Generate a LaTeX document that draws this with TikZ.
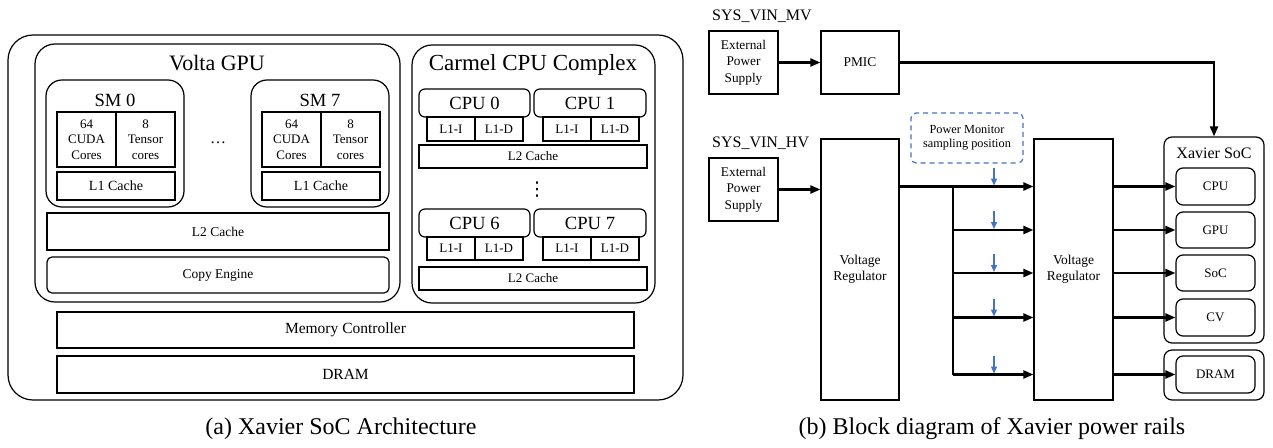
\documentclass[tikz,border=0pt]{standalone}
\usepackage{fontspec}
\setmainfont{Liberation Serif}
\newfontfamily\dejavu{DejaVu Sans}
\usetikzlibrary{arrows.meta,calc}
\definecolor{pmblue}{HTML}{4472C4}
\newcommand{\fs}[2]{\fontsize{#1}{#2}\selectfont}
\begin{document}
\begin{tikzpicture}[x=1pt,y=-1pt,
  box/.style={draw,line width=1.2pt,inner sep=0pt,align=center,font=\fs{13}{15.5}},
  rbox/.style={box,rounded corners=#1},
  lbl/.style={inner sep=0pt,align=center},
  wire/.style={line width=2.2pt},
  arr/.style={line width=2.2pt,-{Triangle[length=10pt,width=8pt]}},
  barr/.style={line width=1.4pt,draw=pmblue,-{Triangle[length=7pt,width=6pt]}}]
\useasboundingbox (0,0) rectangle (1273,447);
% ================= (a) architecture =================
\node[rbox=25pt,minimum width=675pt,minimum height=365pt] (outer) at (345.5,217.5) {};
\node[rbox=20pt,minimum width=365pt,minimum height=258pt] (volta) at (217.5,173) {};
\node[lbl,font=\fs{22}{24}] (voltat) at (217,63) {Volta GPU};
\node[rbox=20pt,minimum width=243pt,minimum height=258pt] (carmel) at (533.5,174) {};
\node[lbl,font=\fs{23}{25}] (carmelt) at (533,65) {Carmel CPU Complex};
% SM 0
\node[rbox=16pt,minimum width=138pt,minimum height=127pt] (sm0) at (115,143.5) {};
\node[lbl,font=\fs{18.6}{20}] (sm0t) at (115,100) {SM 0};
\node[box,minimum width=59pt,minimum height=55pt] (sm0c) at (86.5,139.5) {64\\CUDA\\Cores};
\node[box,minimum width=59pt,minimum height=55pt] (sm0tc) at (145.5,139.5) {8\\Tensor\\cores};
\node[box,font=\fs{14}{16},minimum width=118pt,minimum height=28pt] (sm0l1) at (116,186) {L1 Cache};
% SM 7
\node[rbox=16pt,minimum width=138pt,minimum height=127pt] (sm7) at (320,143.5) {};
\node[lbl,font=\fs{18.6}{20}] (sm7t) at (320,100) {SM 7};
\node[box,minimum width=59pt,minimum height=55pt] (sm7c) at (291.5,139.5) {64\\CUDA\\Cores};
\node[box,minimum width=59pt,minimum height=55pt] (sm7tc) at (350.5,139.5) {8\\Tensor\\cores};
\node[box,font=\fs{14}{16},minimum width=118pt,minimum height=28pt] (sm7l1) at (321,186) {L1 Cache};
\node[lbl,font=\fs{16}{18}] (hdots) at (218,143) {\dots};
\node[box,font=\fs{13.5}{16},minimum width=342pt,minimum height=37pt] (gl2) at (218,231.5) {L2 Cache};
\node[rbox=5pt,font=\fs{13.5}{16},minimum width=342pt,minimum height=36pt] (copy) at (218,275) {Copy Engine};
% CPUs
\node[rbox=6pt,font=\fs{18.6}{20},minimum width=111pt,minimum height=28pt] (cpu0) at (474.5,103) {CPU 0};
\node[rbox=6pt,font=\fs{18.6}{20},minimum width=112pt,minimum height=28pt] (cpu1) at (590,103) {CPU 1};
\node[box,minimum width=48pt,minimum height=24pt] (c0i) at (451,129) {L1-I};
\node[box,minimum width=48pt,minimum height=24pt] (c0d) at (499,129) {L1-D};
\node[box,minimum width=48pt,minimum height=24pt] (c1i) at (567,129) {L1-I};
\node[box,minimum width=48pt,minimum height=24pt] (c1d) at (615,129) {L1-D};
\node[box,minimum width=228pt,minimum height=23pt] (cl2a) at (533,156.5) {L2 Cache};
\node[lbl,font=\dejavu\fs{19}{22}] (vdots) at (537,190) {⋮};
\node[rbox=6pt,font=\fs{18.6}{20},minimum width=111pt,minimum height=28pt] (cpu6) at (474.5,223) {CPU 6};
\node[rbox=6pt,font=\fs{18.6}{20},minimum width=112pt,minimum height=28pt] (cpu7) at (590,223) {CPU 7};
\node[box,minimum width=48pt,minimum height=23pt] (c6i) at (451,248.5) {L1-I};
\node[box,minimum width=48pt,minimum height=23pt] (c6d) at (499,248.5) {L1-D};
\node[box,minimum width=48pt,minimum height=23pt] (c7i) at (567,248.5) {L1-I};
\node[box,minimum width=48pt,minimum height=23pt] (c7d) at (615,248.5) {L1-D};
\node[box,minimum width=228pt,minimum height=23pt] (cl2b) at (533,278.5) {L2 Cache};
% memory
\node[box,font=\fs{15.5}{18},minimum width=577pt,minimum height=36pt] (mem) at (345.5,330) {Memory Controller};
\node[box,font=\fs{15.5}{18},minimum width=577pt,minimum height=37pt] (dramA) at (345.5,374.5) {DRAM};
\node[lbl,font=\fs{24}{26}] (capa) at (341,429) {(a) Xavier SoC Architecture};
% ================= (b) power rails =================
\node[lbl,anchor=west,font=\fs{16}{18}] (mv) at (712,16) {SYS\_VIN\_MV};
\node[box,font=\fs{13.3}{16.5},minimum width=69pt,minimum height=63pt] (eps1) at (743.5,62.5) {External\\Power\\Supply};
\node[box,font=\fs{13.4}{16},minimum width=78pt,minimum height=63pt] (pmic) at (860,62.5) {PMIC};
\node[lbl,anchor=west,font=\fs{16}{18}] (hv) at (712,143) {SYS\_VIN\_HV};
\node[box,font=\fs{13.3}{16.5},minimum width=69pt,minimum height=63pt] (eps2) at (743.5,189.5) {External\\Power\\Supply};
\node[box,font=\fs{13.5}{16},minimum width=78pt,minimum height=261pt] (vr1) at (860,269.5) {Voltage\\Regulator};
\node[box,font=\fs{13.5}{16},minimum width=79pt,minimum height=261pt] (vr2) at (1073.5,269.5) {Voltage\\Regulator};
\node[rbox=5pt,draw=pmblue,dash pattern=on 5pt off 4pt,font=\fs{12.3}{14.5},minimum width=112pt,minimum height=50pt] (pm) at (967,138) {Power Monitor\\sampling position};
\node[rbox=8pt,minimum width=100pt,minimum height=206pt] (xsoc) at (1214,240) {};
\node[lbl,font=\fs{16}{18}] (xsoct) at (1214,153) {Xavier SoC};
\node[rbox=7pt,minimum width=79pt,minimum height=37pt] (cpu) at (1215.5,186.5) {CPU};
\node[rbox=7pt,minimum width=79pt,minimum height=36pt] (gpu) at (1215.5,230) {GPU};
\node[rbox=7pt,minimum width=79pt,minimum height=36pt] (soc) at (1215.5,273) {SoC};
\node[rbox=7pt,minimum width=79pt,minimum height=37pt] (cv) at (1215.5,317.5) {CV};
\node[rbox=8pt,minimum width=100pt,minimum height=50pt] (dramo) at (1214,375) {};
\node[rbox=7pt,minimum width=79pt,minimum height=37pt] (dram) at (1215.5,374.5) {DRAM};
\node[lbl,font=\fs{24}{26}] (capb) at (992,429) {(b) Block diagram of Xavier power rails};
% connectors
\draw[arr] (eps1.east) -- (pmic.west);
\draw[arr] (pmic.east) -| (xsoc.north);
\draw[arr] (eps2.east) -- (eps2.east -| vr1.west);
\coordinate (bus) at (953,0);
\coordinate (pmx) at (994,0);
\draw[wire] (bus |- cpu.west) -- (bus |- dram.west);
\draw[arr] (vr1.east |- cpu.west) -- (vr2.west |- cpu.west);
\foreach \t in {gpu,soc,cv,dram}{
  \draw[arr] (bus |- \t.west) -- (vr2.west |- \t.west);
}
\foreach \t in {cpu,gpu,soc,cv,dram}{
  \draw[arr] (vr2.east |- \t.west) -- (\t.west);
  \draw[barr] ($(pmx |- \t.west)+(0,-19)$) -- ($(pmx |- \t.west)+(0,-1)$);
}
\end{tikzpicture}
\end{document}
